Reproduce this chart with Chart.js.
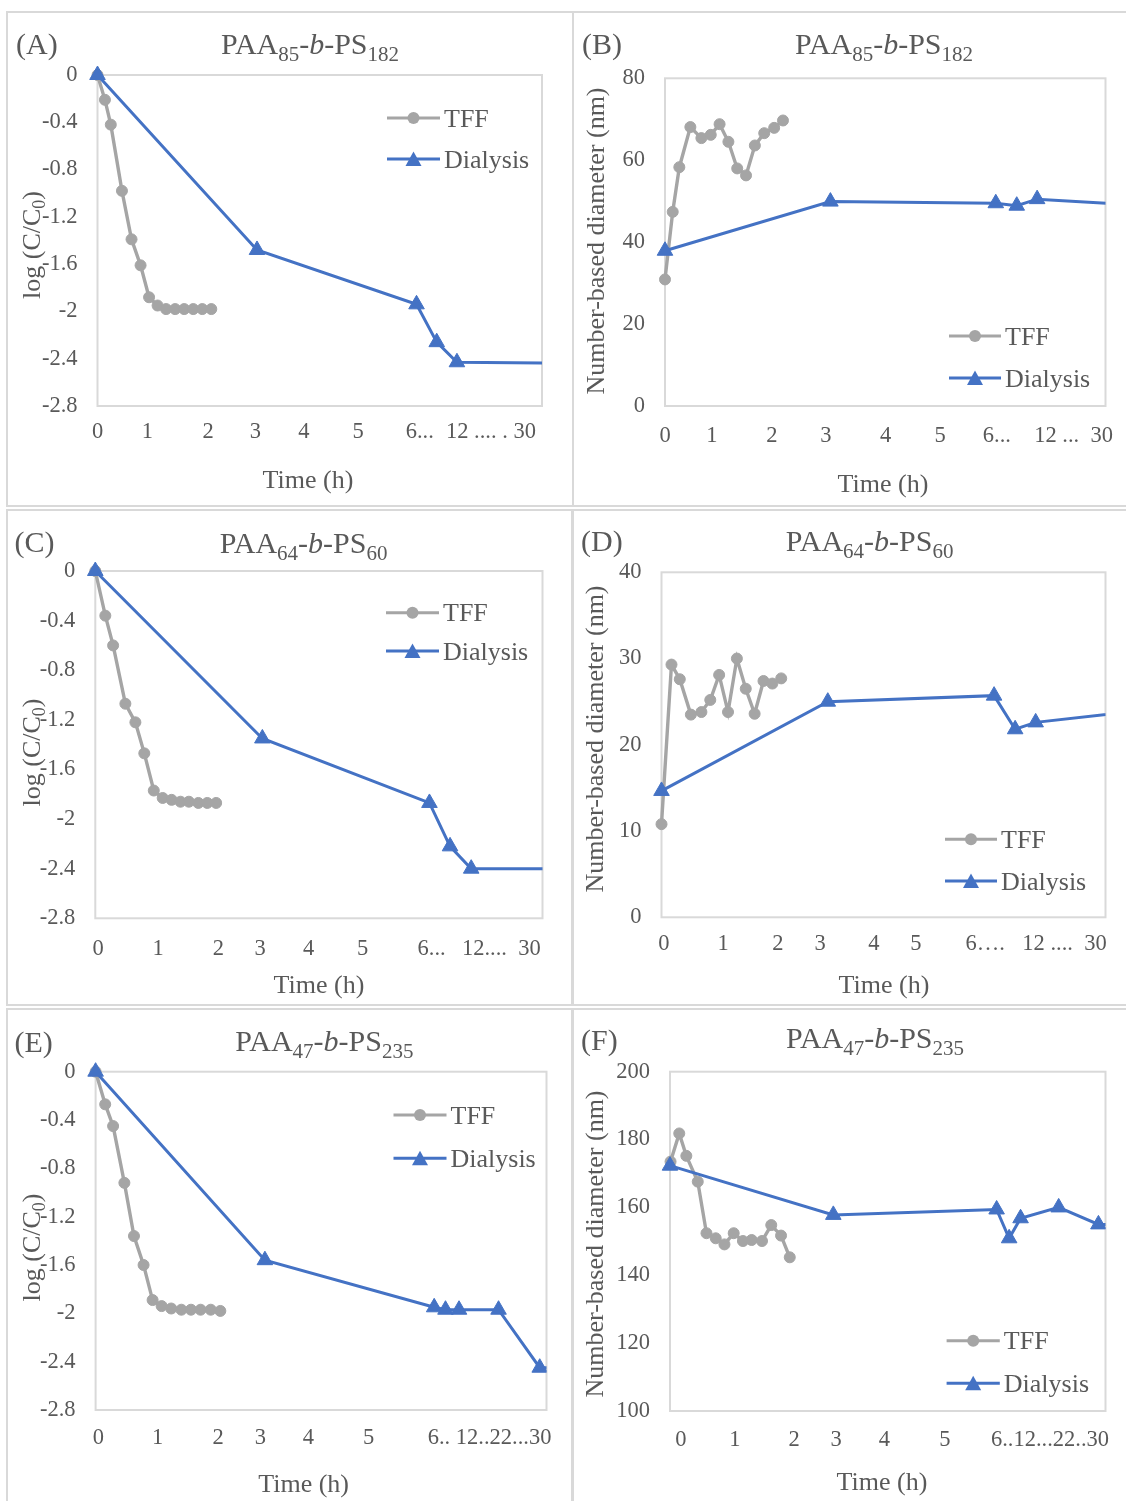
<!DOCTYPE html>
<html>
<head>
<meta charset="utf-8">
<script src="https://cdn.jsdelivr.net/npm/chart.js@4.4.1/dist/chart.umd.min.js"></script>
<style>
  body { margin: 0; background: #fff; }
  #fig { position: relative; width: 1126px; height: 1501px; overflow: hidden; }
  #fig canvas { position: absolute; }
</style>
</head>
<body>
<div id="fig"></div>
<script>
// ---- data (x in display units of the broken time axis) ----
const aTffX = [0, 0.14, 0.25, 0.46, 0.64, 0.81, 0.97, 1.13, 1.29, 1.46, 1.63, 1.8, 1.97, 2.14];
const aTffY = [0, -0.21, -0.42, -0.98, -1.39, -1.61, -1.88, -1.95, -1.98, -1.98, -1.98, -1.98, -1.98, -1.98];
const aDiaX = [0, 3, 6, 6.38, 6.76, 9];
const aDiaY = [0, -1.48, -1.94, -2.26, -2.43, -2.44];

const bTffX = [0, 0.14, 0.26, 0.46, 0.66, 0.83, 0.99, 1.15, 1.31, 1.47, 1.63, 1.8, 1.98, 2.14];
const bTffY = [30.9, 47.4, 58.3, 68.1, 65.4, 66.2, 68.8, 64.5, 58.0, 56.3, 63.6, 66.6, 67.9, 69.7];
const bDiaX = [0, 3, 6, 6.38, 6.75, 9];
const bDiaY = [37.9, 49.9, 49.5, 48.9, 50.5, 48.7];

const cTffX = [0, 0.18, 0.32, 0.54, 0.72, 0.88, 1.05, 1.21, 1.37, 1.53, 1.68, 1.85, 2.01, 2.17];
const cTffY = [0, -0.36, -0.6, -1.07, -1.22, -1.47, -1.77, -1.83, -1.845, -1.86, -1.86, -1.87, -1.87, -1.87];
const cDiaX = [0, 3, 6, 6.37, 6.75, 9];
const cDiaY = [0, -1.35, -1.87, -2.22, -2.4, -2.4];

const dTffX = [0, 0.18, 0.33, 0.53, 0.72, 0.88, 1.04, 1.2, 1.36, 1.52, 1.68, 1.84, 2.0, 2.16];
const dTffY = [10.8, 29.3, 27.6, 23.5, 23.8, 25.2, 28.1, 23.8, 30.0, 26.5, 23.6, 27.4, 27.1, 27.7];
const dDiaX = [0, 3, 6, 6.38, 6.75, 9];
const dDiaY = [14.65, 25.0, 25.7, 21.8, 22.6, 24.2];

const eTffX = [0, 0.17, 0.31, 0.51, 0.68, 0.85, 1.01, 1.17, 1.34, 1.52, 1.69, 1.86, 2.04, 2.21];
const eTffY = [0, -0.27, -0.45, -0.92, -1.36, -1.6, -1.89, -1.94, -1.96, -1.97, -1.97, -1.97, -1.97, -1.98];
const eDiaX = [0, 3, 6, 6.2, 6.44, 7.14, 7.87, 9];
const eDiaY = [0, -1.56, -1.95, -1.97, -1.97, -1.97, -2.45, -2.45];

const fTffX = [0.01, 0.17, 0.3, 0.51, 0.67, 0.84, 1.0, 1.17, 1.34, 1.5, 1.69, 1.86, 2.04, 2.2];
const fTffY = [173.5, 181.8, 175.2, 167.6, 152.4, 150.9, 149.1, 152.4, 150.1, 150.4, 150.1, 154.8, 151.7, 145.3];
const fDiaX = [0, 3, 6, 6.23, 6.44, 7.14, 7.87, 9];
const fDiaY = [172.3, 157.8, 159.4, 150.9, 156.8, 160.0, 155.0, 154.6];

// tick labels of the time axis and where they sit
const aTickX = [0, 0.94, 2.08, 2.97, 3.88, 4.9, 6.06, 7.4];
const aTickLabels = ["0", "1", "2", "3", "4", "5", "6...", "12 .... . 30"];
const bTickX = [0, 0.85, 1.94, 2.92, 4.0, 4.99, 6.02, 7.41];
const bTickLabels = ["0", "1", "2", "3", "4", "5", "6...", "12 ...  30"];
const cTickX = [0.05, 1.13, 2.21, 2.96, 3.83, 4.8, 6.04, 7.29];
const cTickLabels = ["0", "1", "2", "3", "4", "5", "6...", "12....  30"];
const dTickX = [0.045, 1.11, 2.1, 2.86, 3.83, 4.59, 5.84, 7.27];
const dTickLabels = ["0", "1", "2", "3", "4", "5", "6\u2026.", "12 ....  30"];
const eTickX = [0.05, 1.1, 2.17, 2.92, 3.77, 4.84, 6.98];
const eTickLabels = ["0", "1", "2", "3", "4", "5", "6.. 12..22...30"];
const fTickX = [0.2, 1.19, 2.28, 3.05, 3.94, 5.05, 6.98];
const fTickLabels = ["0", "1", "2", "3", "4", "5", "6..12...22..30"];

const SERIF = "'Liberation Serif', 'Times New Roman', serif";
const TEXT = '#595959';
const GRAY = '#a5a5a5';
const BLUE = '#4472c4';
const FRAME = '#d9d9d9';

Chart.defaults.font.family = SERIF;
Chart.defaults.color = TEXT;

const logTitle = [['log (C/C', ''], ['0', 's'], [')', '']];
const diaTitle = [['Number-based diameter (nm)', '']];
const roundTick = (v) => String(Math.round(v * 10) / 10);

const panels = [
  { letter: '(A)', ox: 0, oy: 0, w: 573, h: 508, box: [7, 12, 573, 506], area: [97.5, 75, 542, 406],
    xMax: 8.36, yMin: -2.8, yMax: 0, yStep: 0.4,
    tffX: aTffX, tffY: aTffY, diaX: aDiaX, diaY: aDiaY, tickX: aTickX, tickLabels: aTickLabels,
    title: [['PAA', ''], ['85', 's'], ['-', ''], ['b', 'i'], ['-PS', ''], ['182', 's']],
    titlePos: [310, 54], letterPos: [16, 54], yTitle: logTitle, yTitlePos: [31, 245], xTitlePos: [308, 488],
    legend: [387, 440, 118, 159], xPad: 13 },
  { letter: '(B)', ox: 573, oy: 0, w: 553, h: 508, box: [573, 12, 1127, 506], area: [665, 78.3, 1105.5, 406],
    xMax: 7.99, yMin: 0, yMax: 80, yStep: 20,
    tffX: bTffX, tffY: bTffY, diaX: bDiaX, diaY: bDiaY, tickX: bTickX, tickLabels: bTickLabels,
    title: [['PAA', ''], ['85', 's'], ['-', ''], ['b', 'i'], ['-PS', ''], ['182', 's']],
    titlePos: [884, 54], letterPos: [582, 54], yTitle: diaTitle, yTitlePos: [595, 241], xTitlePos: [883, 492],
    legend: [949, 1001, 336, 378], xPad: 17 },
  { letter: '(C)', ox: 0, oy: 508, w: 573, h: 499, box: [7, 510, 572, 1005], area: [95.3, 571, 542.5, 918.3],
    xMax: 8.03, yMin: -2.8, yMax: 0, yStep: 0.4,
    tffX: cTffX, tffY: cTffY, diaX: cDiaX, diaY: cDiaY, tickX: cTickX, tickLabels: cTickLabels,
    title: [['PAA', ''], ['64', 's'], ['-', ''], ['b', 'i'], ['-PS', ''], ['60', 's']],
    titlePos: [303.6, 553], letterPos: [14.5, 552], yTitle: logTitle, yTitlePos: [31, 752.5], xTitlePos: [319, 993],
    legend: [386, 439, 612.7, 651], xPad: 17 },
  { letter: '(D)', ox: 573, oy: 508, w: 553, h: 499, box: [573, 510, 1127, 1005], area: [661.5, 572.3, 1105.5, 917.3],
    xMax: 8.01, yMin: 0, yMax: 40, yStep: 10,
    tffX: dTffX, tffY: dTffY, diaX: dDiaX, diaY: dDiaY, tickX: dTickX, tickLabels: dTickLabels,
    title: [['PAA', ''], ['64', 's'], ['-', ''], ['b', 'i'], ['-PS', ''], ['60', 's']],
    titlePos: [869.6, 551], letterPos: [581, 551], yTitle: diaTitle, yTitlePos: [594, 739], xTitlePos: [884, 993],
    legend: [945, 997, 839.3, 881], xPad: 13 },
  { letter: '(E)', ox: 0, oy: 1007, w: 573, h: 494, box: [7, 1009, 572, 1502], area: [95.6, 1071.7, 546.5, 1410],
    xMax: 7.99, yMin: -2.8, yMax: 0, yStep: 0.4,
    tffX: eTffX, tffY: eTffY, diaX: eDiaX, diaY: eDiaY, tickX: eTickX, tickLabels: eTickLabels,
    title: [['PAA', ''], ['47', 's'], ['-', ''], ['b', 'i'], ['-PS', ''], ['235', 's']],
    titlePos: [324.4, 1051], letterPos: [14.5, 1052], yTitle: logTitle, yTitlePos: [31, 1247.5], xTitlePos: [303.6, 1492],
    legend: [393.5, 446.5, 1115, 1158.3], xPad: 15 },
  { letter: '(F)', ox: 573, oy: 1007, w: 553, h: 494, box: [573, 1009, 1127, 1502], area: [670, 1071.7, 1105.5, 1411],
    xMax: 8.0, yMin: 100, yMax: 200, yStep: 20,
    tffX: fTffX, tffY: fTffY, diaX: fDiaX, diaY: fDiaY, tickX: fTickX, tickLabels: fTickLabels,
    title: [['PAA', ''], ['47', 's'], ['-', ''], ['b', 'i'], ['-PS', ''], ['235', 's']],
    titlePos: [875, 1048], letterPos: [581, 1050], yTitle: diaTitle, yTitlePos: [594, 1244], xTitlePos: [882, 1490],
    legend: [946.6, 999.8, 1340.7, 1383.3], xPad: 16 },
];

// text made of pieces, some of them subscript or italic, centred on cx
function drawRich(ctx, parts, cx, by, size, subSize, subDrop) {
  const fontOf = (st) => (st === 'i' ? 'italic ' : '') + (st === 's' ? subSize : size) + 'px ' + SERIF;
  let total = 0;
  parts.forEach(([t, st]) => { ctx.font = fontOf(st); total += ctx.measureText(t).width; });
  let x = cx - total / 2;
  ctx.textAlign = 'left';
  ctx.textBaseline = 'alphabetic';
  parts.forEach(([t, st]) => {
    ctx.font = fontOf(st);
    ctx.fillText(t, x, st === 's' ? by + subDrop : by);
    x += ctx.measureText(t).width;
  });
}

function legendItem(ctx, x1, x2, y, color, style, label) {
  ctx.strokeStyle = color;
  ctx.lineWidth = 3;
  ctx.beginPath();
  ctx.moveTo(x1, y);
  ctx.lineTo(x2, y);
  ctx.stroke();
  const mx = (x1 + x2) / 2;
  ctx.fillStyle = color;
  ctx.beginPath();
  if (style === 'circle') {
    ctx.arc(mx, y, 6, 0, Math.PI * 2);
  } else {
    ctx.moveTo(mx, y - 7.5);
    ctx.lineTo(mx + 8, y + 7);
    ctx.lineTo(mx - 8, y + 7);
    ctx.closePath();
  }
  ctx.fill();
  ctx.fillStyle = TEXT;
  ctx.font = '26px ' + SERIF;
  ctx.textAlign = 'left';
  ctx.textBaseline = 'alphabetic';
  ctx.fillText(label, x2 + 4, y + 8.6);
}

const fig = document.getElementById('fig');

function makePanel(p) {
  const cv = document.createElement('canvas');
  cv.width = p.w;
  cv.height = p.h;
  cv.style.left = p.ox + 'px';
  cv.style.top = p.oy + 'px';
  cv.style.width = p.w + 'px';
  cv.style.height = p.h + 'px';
  fig.appendChild(cv);

  const L = p.area[0] - p.ox, T = p.area[1] - p.oy, R = p.area[2] - p.ox, B = p.area[3] - p.oy;
  const gx = (x) => x - p.ox, gy = (y) => y - p.oy;

  const decor = {
    id: 'decor',
    beforeDraw(chart) {
      const ctx = chart.ctx;
      ctx.save();
      ctx.strokeStyle = FRAME;
      ctx.lineWidth = 2;
      ctx.strokeRect(gx(p.box[0]), gy(p.box[1]), p.box[2] - p.box[0], p.box[3] - p.box[1]);
      ctx.restore();
    },
    beforeDatasetsDraw(chart) {
      const { ctx, chartArea: a } = chart;
      ctx.save();
      ctx.strokeStyle = FRAME;
      ctx.lineWidth = 2;
      ctx.strokeRect(a.left, a.top, a.right - a.left, a.bottom - a.top);
      ctx.restore();
    },
    afterDraw(chart) {
      const ctx = chart.ctx;
      ctx.save();
      ctx.fillStyle = TEXT;
      ctx.font = '30px ' + SERIF;
      ctx.textAlign = 'left';
      ctx.textBaseline = 'alphabetic';
      ctx.fillText(p.letter, gx(p.letterPos[0]), gy(p.letterPos[1]));

      drawRich(ctx, p.title, gx(p.titlePos[0]), gy(p.titlePos[1]), 30, 21, 7);

      drawRich(ctx, [['Time (h)', '']], gx(p.xTitlePos[0]), gy(p.xTitlePos[1]), 26, 18, 5);

      ctx.save();
      ctx.translate(gx(p.yTitlePos[0]), gy(p.yTitlePos[1]));
      ctx.rotate(-Math.PI / 2);
      drawRich(ctx, p.yTitle, 0, 8.5, 26, 18, 5);
      ctx.restore();

      const [x1, x2, y1, y2] = p.legend;
      legendItem(ctx, gx(x1), gx(x2), gy(y1), GRAY, 'circle', 'TFF');
      legendItem(ctx, gx(x1), gx(x2), gy(y2), BLUE, 'triangle', 'Dialysis');
      ctx.restore();
    },
  };

  const clip = { left: 30, top: 30, right: 0, bottom: 30 };

  new Chart(cv, {
    type: 'line',
    data: {
      datasets: [
        {
          label: 'TFF',
          data: p.tffX.map((x, i) => ({ x, y: p.tffY[i] })),
          borderColor: GRAY,
          backgroundColor: GRAY,
          pointBorderColor: GRAY,
          pointBackgroundColor: GRAY,
          borderWidth: 3.4,
          pointStyle: 'circle',
          pointRadius: 5.5,
          pointBorderWidth: 1,
          tension: 0,
          order: 1,
          clip,
        },
        {
          label: 'Dialysis',
          data: p.diaX.map((x, i) => ({ x, y: p.diaY[i] })),
          borderColor: BLUE,
          backgroundColor: BLUE,
          pointBorderColor: BLUE,
          pointBackgroundColor: BLUE,
          borderWidth: 3,
          pointStyle: 'triangle',
          pointRadius: p.diaX.map((x) => (x > p.xMax ? 0 : 9)),
          pointBorderWidth: 1,
          tension: 0,
          order: 0,
          clip,
        },
      ],
    },
    options: {
      responsive: false,
      animation: false,
      events: [],
      layout: { padding: { left: 0, top: T, right: p.w - R, bottom: 0 } },
      plugins: {
        legend: { display: false },
        title: { display: false },
        tooltip: { enabled: false },
      },
      scales: {
        x: {
          type: 'linear',
          min: 0,
          max: p.xMax,
          grid: { display: false, drawTicks: false },
          border: { display: false },
          afterBuildTicks: (s) => { s.ticks = p.tickX.map((v) => ({ value: v })); },
          afterFit: (s) => { s.height = p.h - B; s.paddingLeft = 0; s.paddingRight = 0; },
          ticks: {
            autoSkip: false,
            maxRotation: 0,
            minRotation: 0,
            padding: p.xPad,
            color: TEXT,
            font: { size: 22.5 },
            callback: (v, i) => p.tickLabels[i],
          },
        },
        y: {
          type: 'linear',
          min: p.yMin,
          max: p.yMax,
          grid: { display: false, drawTicks: false },
          border: { display: false },
          afterFit: (s) => { s.width = L; s.paddingTop = 0; s.paddingBottom = 0; },
          ticks: {
            stepSize: p.yStep,
            padding: 20,
            color: TEXT,
            font: { size: 22.5 },
            callback: roundTick,
          },
        },
      },
    },
    plugins: [decor],
  });
}

panels.forEach(makePanel);
</script>
</body>
</html>
